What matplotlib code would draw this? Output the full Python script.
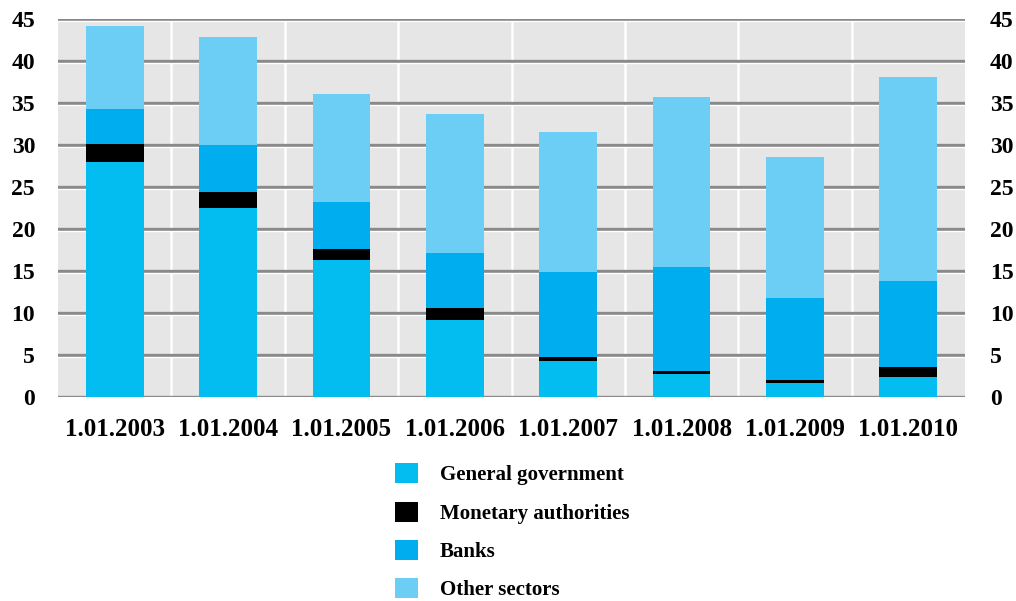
import matplotlib
matplotlib.use("Agg")
import matplotlib.pyplot as plt
from matplotlib import font_manager
import numpy as np

categories = ["1.01.2003", "1.01.2004", "1.01.2005", "1.01.2006",
              "1.01.2007", "1.01.2008", "1.01.2009", "1.01.2010"]
general_government = [28.0, 22.6, 16.3, 9.2, 4.35, 2.8, 1.7, 2.4]
monetary_authorities = [2.15, 1.8, 1.4, 1.4, 0.45, 0.3, 0.35, 1.2]
banks = [4.15, 5.7, 5.55, 6.6, 10.15, 12.4, 9.8, 10.25]
other_sectors = [9.9, 12.8, 12.9, 16.5, 16.6, 20.3, 16.8, 24.3]
series_names = ["General government", "Monetary authorities", "Banks", "Other sectors"]
series_colors = ["#03bdf1", "#000000", "#00adee", "#6ccef5"]
yticks = [0, 5, 10, 15, 20, 25, 30, 35, 40, 45]

available = {f.name for f in font_manager.fontManager.ttflist}
family = "DejaVu Serif"
for cand in ["DejaVu Serif Condensed", "Liberation Serif"]:
    if cand in available:
        family = cand
        break
plt.rcParams["font.family"] = family
plt.rcParams["font.weight"] = "bold"

fig = plt.figure(figsize=(10.16, 6.01), dpi=100)
ax = fig.add_axes([0.0571, 0.339, 0.8927, 0.6286])
ax.set_facecolor("#e6e6e6")

x = np.arange(len(categories))
ax.set_xlim(-0.5, len(categories) - 0.5)
ax.set_ylim(0, 45)

# grid: grey horizontal rules with a white highlight below, white vertical separators
for v in yticks:
    ax.axhline(v, color="#8a8a8a", lw=2.4, zorder=1)
    ax.axhline(v - 0.18, color="white", lw=1.0, zorder=1)
for b in np.arange(0.5, len(categories) - 0.5, 1.0):
    ax.axvline(b, color="white", lw=1.8, zorder=0.5)

bottom = np.zeros(len(categories))
data = [general_government, monetary_authorities, banks, other_sectors]
handles = []
for vals, name, col in zip(data, series_names, series_colors):
    h = ax.bar(x, vals, width=0.51, bottom=bottom, color=col, label=name,
               zorder=2, linewidth=0)
    handles.append(h)
    bottom += np.array(vals)

for s in ax.spines.values():
    s.set_visible(False)

ax.set_yticks(yticks)
ax.set_yticklabels([str(t) for t in yticks], fontsize=17, fontweight="bold")
ax.tick_params(axis="y", length=0, pad=16.5)
ax.set_xticks(x)
ax.set_xticklabels(categories, fontsize=18, fontweight="bold")
ax.tick_params(axis="x", length=0, pad=15)

ax2 = ax.twinx()
ax2.set_ylim(0, 45)
ax2.set_yticks(yticks)
ax2.set_yticklabels([str(t) for t in yticks], fontsize=17, fontweight="bold")
ax2.tick_params(axis="y", length=0, pad=18)
for s in ax2.spines.values():
    s.set_visible(False)

fig.legend(handles=handles, labels=series_names, loc="upper left",
           bbox_to_anchor=(0.389, 0.229), frameon=False, fontsize=15,
           handlelength=1.1, handleheight=1.1, handletextpad=1.05,
           labelspacing=0.78, borderaxespad=0, borderpad=0)

fig.savefig("out.png", dpi=100)
